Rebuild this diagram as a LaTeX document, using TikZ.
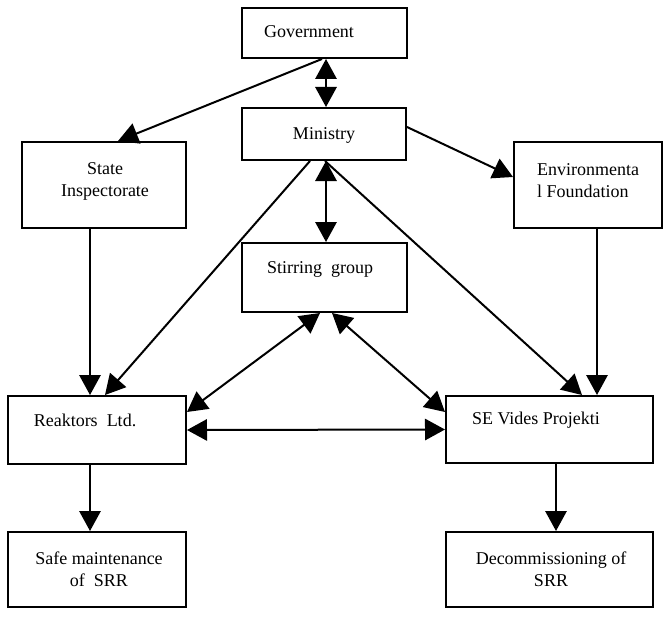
\documentclass[tikz,border=0pt]{standalone}
\usepackage{fontspec}
\setmainfont{Liberation Serif}
\usepackage{tikz}
\usetikzlibrary{arrows.meta, calc}

\begin{document}
\begin{tikzpicture}[x=0.75pt, y=-0.75pt,
    every node/.style={font=\fontsize{13.5pt}{16.5pt}\selectfont},
    box/.style={draw, line width=1.5pt, inner sep=0pt},
    lbl/.style={align=center, inner sep=0pt},
    arr/.style={line width=1.5pt, -{Triangle[length=15pt, width=16pt]}},
    darr/.style={line width=1.5pt, {Triangle[length=15pt, width=16pt]}-{Triangle[length=15pt, width=16pt]}}]
  \useasboundingbox (0,0) rectangle (664,617);
  % boxes, top row to bottom row
  \node[box, minimum width=123.75pt, minimum height=37.5pt] (gov) at (324.5,33) {};
  \node[box, minimum width=123pt, minimum height=39pt] (min) at (324,134) {};
  \node[box, minimum width=123pt, minimum height=64.5pt] (state) at (104,185) {};
  \node[box, minimum width=111pt, minimum height=64.5pt] (env) at (588,185) {};
  \node[box, minimum width=123.75pt, minimum height=51.75pt] (stir) at (324.5,277.5) {};
  \node[box, minimum width=133.5pt, minimum height=51pt] (reak) at (97,430) {};
  \node[box, minimum width=155.25pt, minimum height=50.25pt] (se) at (549.5,429.5) {};
  \node[box, minimum width=133.5pt, minimum height=56.25pt] (safe) at (97,569.5) {};
  \node[box, minimum width=155.25pt, minimum height=56.25pt] (dec) at (549.5,569.5) {};
  % texts
  \node[lbl] (gov-t) at (309,32) {Government};
  \node[lbl] (min-t) at (324,135) {Ministry};
  \node[lbl] (state-t) at (105,181) {State\\Inspectorate};
  \node[lbl, align=left] (env-t) at (588,181) {Environmenta\\l Foundation};
  \node[lbl] (stir-t) at (320,269.5) {Stirring~~group};
  \node[lbl] (reak-t) at (85,420) {Reaktors~~Ltd.};
  \node[lbl] (se-t) at (536,420.5) {SE Vides Projekti};
  \node[lbl] (safe-t) at (99,569.5) {Safe maintenance\\of~~SRR};
  \node[lbl] (dec-t) at (551,569.5) {Decommissioning of\\SRR};
  % links
  \draw[darr] ($(gov.south)+(1.5,0)$) -- ($(min.north)+(2,0)$);
  \draw[arr] ($(gov.south)+(-2.5,0)$) -- ($(state.north)+(14,0)$);
  \draw[arr] ($(min.east)+(0,-7)$) -- ($(env.west)+(0,-8)$);
  \draw[darr] ($(min.south)+(2,0)$) -- ($(stir.north)+(1.5,0)$);
  \draw[arr] ($(min.south)+(-14,0)$) -- ($(reak.north)+(8,0)$);
  \draw[arr] ($(min.south)+(1,0)$) -- ($(se.north)+(32.5,0)$);
  \draw[arr] ($(env.south)+(9,0)$) -- ($(se.north)+(47.5,0)$);
  \draw[arr] ($(state.south)+(-14,0)$) -- ($(reak.north)+(-7,0)$);
  \draw[darr] ($(stir.south)+(-4.5,0)$) -- ($(reak.east)+(0,-18)$);
  \draw[darr] ($(stir.south)+(7.5,0)$) -- ($(se.west)+(0,-17.5)$);
  \draw[darr] (reak.east) -- (se.west);
  \draw[arr] ($(reak.south)+(-7,0)$) -- ($(safe.north)+(-7,0)$);
  \draw[arr] ($(se.south)+(6.5,0)$) -- ($(dec.north)+(6.5,0)$);
\end{tikzpicture}
\end{document}
